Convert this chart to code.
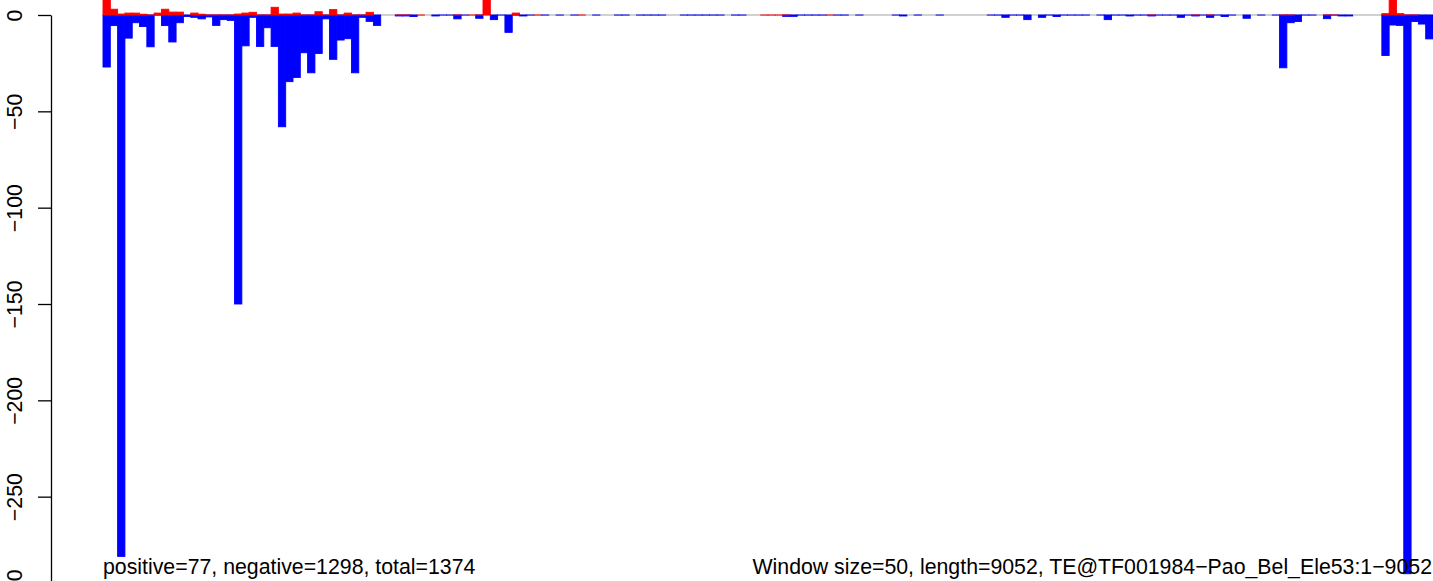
<!DOCTYPE html>
<html>
<head>
<meta charset="utf-8">
<script src="https://cdn.jsdelivr.net/npm/d3@7"></script>
<style>
  html, body { margin: 0; padding: 0; background: #fff; }
  svg { display: block; }
  text { font-family: "Liberation Sans", Arial, Helvetica, sans-serif; }
</style>
</head>
<body>
<div id="chart-area"></div>
<script>
// one value per 50 bp window (182 windows), null = no bar in that window
const positive = [
  12, 3, 0.5, 1, 1, 0.4, 0, 1, 3, 1.5,
  1.5, null, 1, 0.4, 0, 0, 0, 0, 0.5, 1,
  1.4, 0, 0, 4, 0.5, 0.5, 1, 0, 0, 1.7,
  0, 2.8, 0, 1, 0, 0, 1.4, null, null, null,
  0, 0, null, 0, null, null, null, null, 0, null,
  0, 0, 11, null, null, null, 1, null, null, 0,
  null, null, null, null, null, 0, null, null, null, null,
  null, null, null, null, null, null, null, null, null, null,
  null, null, null, null, null, null, null, null, null, null,
  0, 0, 0, 0, null, null, null, null, null, 0,
  null, null, null, null, null, null, null, null, null, null,
  null, null, null, null, null, null, null, null, null, null,
  null, null, null, null, null, null, null, null, null, null,
  null, null, null, null, null, null, null, null, null, null,
  null, null, null, 0, null, null, null, null, null, 0,
  null, 0, null, null, null, null, null, null, null, null,
  null, 0, 0, null, null, null, null, 0, 0, null,
  null, null, null, null, null, 0.7, 11, 0.7, 0, 0,
  null, null
];

const negative = [
  -27, -5.5, -281, -12, -4, -6, -16.5, 0, -5.5, -14,
  -4, -0.8, -1.2, -2, -1, -5.4, -2.4, -2.8, -150, -16,
  -1.2, -16.3, -6.6, -16.3, -58, -34.6, -32.4, -19.6, -30, -20,
  -2, -23, -13, -12.3, -30, -1.2, -3.3, -5.4, null, null,
  -0.5, -0.5, -0.8, null, null, -0.5, 0, 0, -2, 0,
  null, -1.7, null, -2.4, 0, -9, 0, -0.5, 0, null,
  0, null, 0, null, 0, null, null, 0, null, null,
  0, 0, null, 0, 0, 0, 0, null, null, 0,
  0, 0, 0, 0, 0, null, 0, 0, null, null,
  null, null, null, -0.7, -0.7, 0, 0, 0, 0, null,
  0, 0, null, 0, null, null, null, null, 0, -0.5,
  null, 0, null, null, 0, null, null, null, null, null,
  null, 0, 0, -1.2, 0, 0, -2.4, null, -1.2, 0,
  -0.8, 0, 0, 0, 0, null, 0, -2.4, 0, 0,
  -0.5, 0, 0, -0.5, 0, 0, 0, -1.2, 0, -0.5,
  0, -1.2, 0, -0.8, 0, null, -1.7, null, 0, null,
  0, -27.4, -4, -3.4, 0, 0, null, -1.9, 0, -0.5,
  -0.5, null, null, null, null, -21, -5.2, -5.4, -290, -3.4,
  -4.7, -12.4
];

const yTicks = [0, -50, -100, -150, -200, -250, -300];
const leftNote = "positive=77, negative=1298, total=1374";
const rightNote = "Window size=50, length=9052, TE@TF001984\u2212Pao_Bel_Ele53:1\u22129052";

const chart = { width: 1433, height: 581 };
const plot = { left: 103, right: 1433, zero: 15, axisX: 51 };

const windows = d3.range(negative.length);

const x = d3
  .scaleBand()
  .domain(windows)
  .range([plot.left, plot.right])
  .padding(0);

const y = d3
  .scaleLinear()
  .domain([0, -300])
  .range([plot.zero, plot.zero + 578]);

const svg = d3
  .select("#chart-area")
  .append("svg")
  .attr("width", chart.width)
  .attr("height", chart.height);

// grey base line at zero
svg.append("line")
  .attr("x1", plot.left)
  .attr("x2", plot.right)
  .attr("y1", y(0))
  .attr("y2", y(0))
  .attr("stroke", "#a3a3a3")
  .attr("stroke-width", 1.1);

// zero-height bars still get their border, like R does
const drawBars = (values, colour) => {
  svg.append("g")
    .selectAll("rect")
    .data(windows.filter(i => values[i] !== null))
    .enter()
    .append("rect")
    .attr("x", i => x(i))
    .attr("width", x.bandwidth())
    .attr("y", i => Math.min(y(values[i]), y(0)))
    .attr("height", i => Math.max(0.05, Math.abs(y(values[i]) - y(0))))
    .attr("fill", colour)
    .attr("stroke", colour)
    .attr("stroke-width", 0.9);
};

drawBars(negative, "#0000ff");
drawBars(positive, "#ff0000");

const yAxis = d3
  .axisLeft(y)
  .tickValues(yTicks)
  .tickSize(13)
  .tickSizeOuter(0)
  .tickFormat(d => (d === 0 ? "0" : "\u2212" + Math.abs(d)));

const axisG = svg.append("g")
  .attr("class", "y-axis")
  .attr("transform", `translate(${plot.axisX}, 0)`)
  .call(yAxis);

axisG.select(".domain").attr("stroke", "#000").attr("stroke-width", 1.3);
axisG.selectAll(".tick line").attr("stroke", "#000").attr("stroke-width", 1.3);
axisG.selectAll(".tick text")
  .attr("x", 0)
  .attr("dy", 0)
  .attr("transform", "translate(-29, 0) rotate(-90)")
  .attr("text-anchor", "middle")
  .attr("fill", "#000")
  .style("font-family", "'Liberation Sans', Arial, sans-serif")
  .style("font-size", "21.3px");

svg.append("text")
  .text(leftNote)
  .attr("x", plot.left)
  .attr("y", 574)
  .attr("text-anchor", "start")
  .attr("font-size", 21.3);

svg.append("text")
  .text(rightNote)
  .attr("x", plot.right - 1)
  .attr("y", 574)
  .attr("text-anchor", "end")
  .attr("font-size", 21.3);
</script>
</body>
</html>
